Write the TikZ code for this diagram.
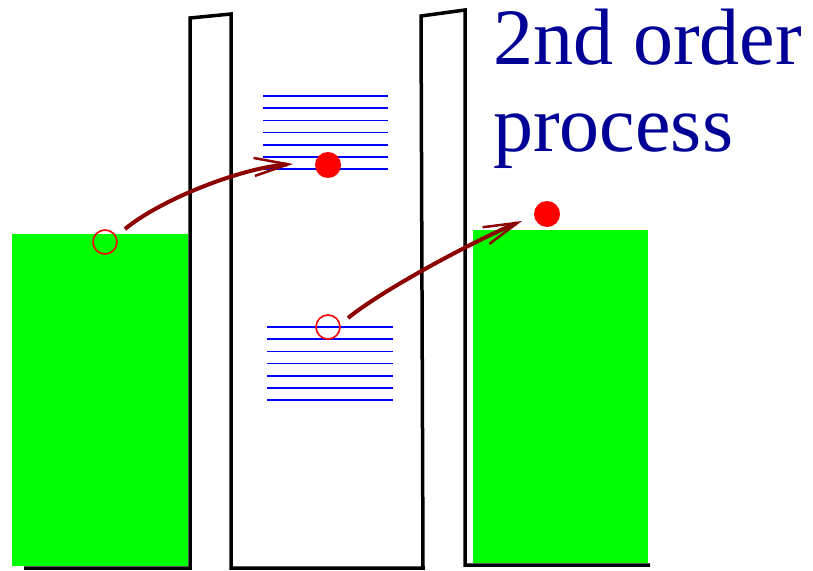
\documentclass[tikz,border=0pt]{standalone}
\usepackage{fontspec}
\setmainfont{Liberation Serif}
\usepackage{tikz}
\usetikzlibrary{arrows.meta}
\definecolor{bandgreen}{RGB}{0,255,0}
\definecolor{hopred}{RGB}{140,0,0}
\definecolor{labelblue}{RGB}{0,0,150}

\begin{document}
\begin{tikzpicture}[
  x=1pt, y=-1pt,
  wall/.style={draw=black, line width=3.5pt},
  band/.style={fill=bandgreen},
  level/.style={draw=blue, line width=1.6pt},
  hole/.style={circle, draw=red, line width=1.6pt, minimum size=24pt, inner sep=0pt},
  electron/.style={circle, fill=red, minimum size=26pt, inner sep=0pt},
  hop/.style={-{Straight Barb[length=34pt,width=18pt,line width=2.5pt]}, line width=4pt, hopred}
]
  \useasboundingbox (0,0) rectangle (813,570);

  \fill[band] (12,234) rectangle (188,566);
  \fill[band] (473,230) rectangle (648,563);
  \draw[wall] (24,568) -- (190,568) -- (190,18) -- (231,14) -- (231,568)
    -- (423,568) -- (421,16) -- (465,10) -- (465,565) -- (650,565);

  \foreach \i in {0,...,6} {
    \draw[level] (263,{96+12.2*\i}) -- (388,{96+12.2*\i});
    \draw[level] (267,{327+12.2*\i}) -- (393,{327+12.2*\i});
  }

  \node[hole] (hole1) at (105,242) {};
  \node[electron] (elec1) at (328,165) {};
  \node[hole] (hole2) at (328,327) {};
  \node[electron] (elec2) at (547,214) {};

  \coordinate (hop1s) at (125,229);
  \coordinate (hop1e) at (293,164);
  \coordinate (hop2s) at (348,318);
  \coordinate (hop2e) at (522,221);
  \draw[hop] (hop1s) .. controls (160,200) and (240,168) .. (hop1e);
  \draw[hop] (hop2s) .. controls (385,288) and (480,238) .. (hop2e);

  \node[anchor=north west, inner sep=0pt, align=left, text=labelblue,
    font=\fontsize{80}{87}\selectfont] (title) at (493,9) {2nd order\\process};
\end{tikzpicture}
\end{document}
